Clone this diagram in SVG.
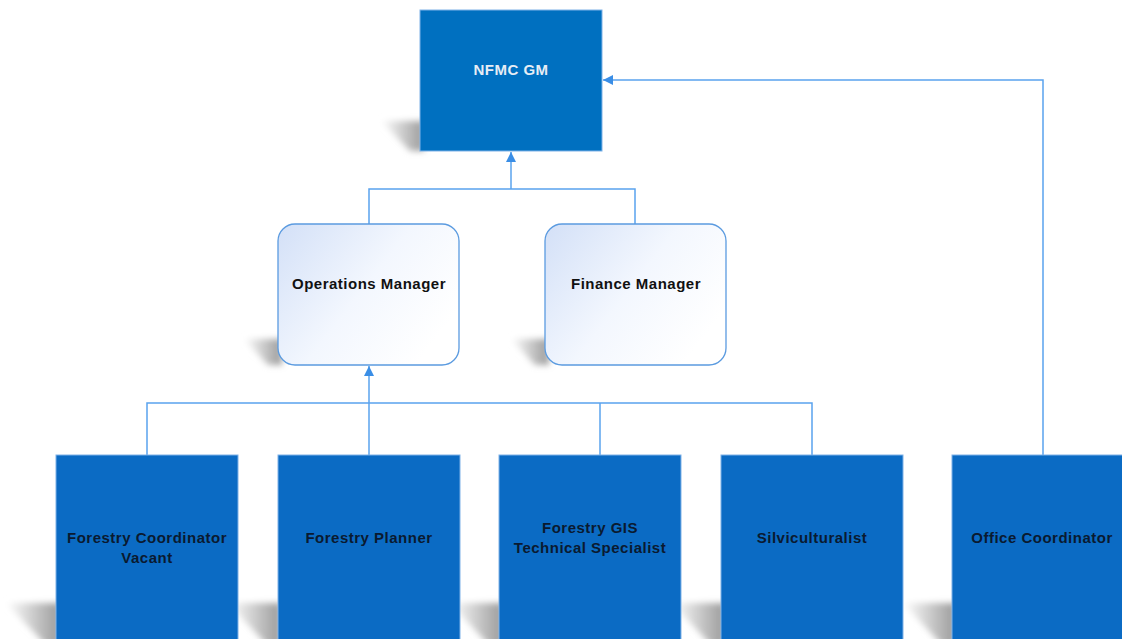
<svg xmlns="http://www.w3.org/2000/svg" width="1122" height="639" viewBox="0 0 1122 639">
<style>
.dark{fill:#0b6bc4;stroke:#7fb2e8;stroke-width:1}
.top{fill:#0070c0;stroke:#7fb2e8;stroke-width:1}
.mgr{fill:url(#mg);stroke:#5b9be0;stroke-width:1.3}
.shadow{fill:url(#sg);filter:url(#blur)}
.conn{fill:none;stroke:#5aa3ee;stroke-width:1.5}
text{font-family:"Liberation Sans",Arial,sans-serif;font-weight:bold;font-size:15px;letter-spacing:0.5px;text-anchor:middle}
.tw{fill:#e6edf5}
.tb{fill:#111111}
.td{fill:#0a1a30}
</style>
<defs>
<linearGradient id="mg" x1="0" y1="0" x2="1" y2="0.6">
<stop offset="0" stop-color="#d3e0f7"/>
<stop offset="0.55" stop-color="#f3f7fe"/>
<stop offset="1" stop-color="#ffffff"/>
</linearGradient>
<linearGradient id="sg" x1="0" y1="0" x2="1" y2="0">
<stop offset="0" stop-color="#ffffff"/>
<stop offset="1" stop-color="#9a9a9a"/>
</linearGradient>
<filter id="blur" x="-30%" y="-30%" width="160%" height="160%"><feGaussianBlur stdDeviation="3"/></filter>
<marker id="arr" viewBox="0 0 10 10" refX="10" refY="5" markerWidth="10" markerHeight="10" markerUnits="userSpaceOnUse" orient="auto">
<path d="M0,0 L10,5 L0,10 z" fill="#3a8ee6"/>
</marker>
</defs>

<g id="shadows">
<polygon class="shadow" points="381,121 424,121 424,151 410,151"/>
<polygon class="shadow" points="244,339 282,339 282,365 268,365"/>
<polygon class="shadow" points="511,339 549,339 549,365 535,365"/>
<polygon class="shadow" points="6,603 60,603 60,645 46,645"/>
<polygon class="shadow" points="228,603 281,603 281,645 267,645"/>
<polygon class="shadow" points="450,603 503,603 503,645 489,645"/>
<polygon class="shadow" points="672,603 725,603 725,645 711,645"/>
<polygon class="shadow" points="903,603 956,603 956,645 942,645"/>
</g>

<g id="connectors">
<path class="conn" d="M369,224 V189 H635 V224"/>
<path class="conn" d="M511,189 V152" marker-end="url(#arr)"/>
<path class="conn" d="M147,455 V403 H812 V455"/>
<path class="conn" d="M600,403 V455"/>
<path class="conn" d="M369,455 V366" marker-end="url(#arr)"/>
<path class="conn" d="M1043,455 V80 H603" marker-end="url(#arr)"/>
</g>

<g id="nfmc-gm">
<rect class="top" x="420" y="10" width="182" height="141"/>
<text class="tw" x="511" y="75">NFMC GM</text>
</g>

<g id="operations-manager">
<rect class="mgr" x="278" y="224" width="181" height="141" rx="17"/>
<text class="tb" x="369" y="289">Operations Manager</text>
</g>

<g id="finance-manager">
<rect class="mgr" x="545" y="224" width="181" height="141" rx="17"/>
<text class="tb" x="636" y="289">Finance Manager</text>
</g>

<g id="forestry-coordinator">
<rect class="dark" x="56" y="455" width="182" height="200"/>
<text class="td" x="147" y="543">Forestry Coordinator</text>
<text class="td" x="147" y="563">Vacant</text>
</g>

<g id="forestry-planner">
<rect class="dark" x="278" y="455" width="182" height="200"/>
<text class="td" x="369" y="543">Forestry Planner</text>
</g>

<g id="forestry-gis">
<rect class="dark" x="499" y="455" width="182" height="200"/>
<text class="td" x="590" y="533">Forestry GIS</text>
<text class="td" x="590" y="553">Technical Specialist</text>
</g>

<g id="silviculturalist">
<rect class="dark" x="721" y="455" width="182" height="200"/>
<text class="td" x="812" y="543">Silviculturalist</text>
</g>

<g id="office-coordinator">
<rect class="dark" x="952" y="455" width="181" height="200"/>
<text class="td" x="1042" y="543">Office Coordinator</text>
</g>
</svg>
